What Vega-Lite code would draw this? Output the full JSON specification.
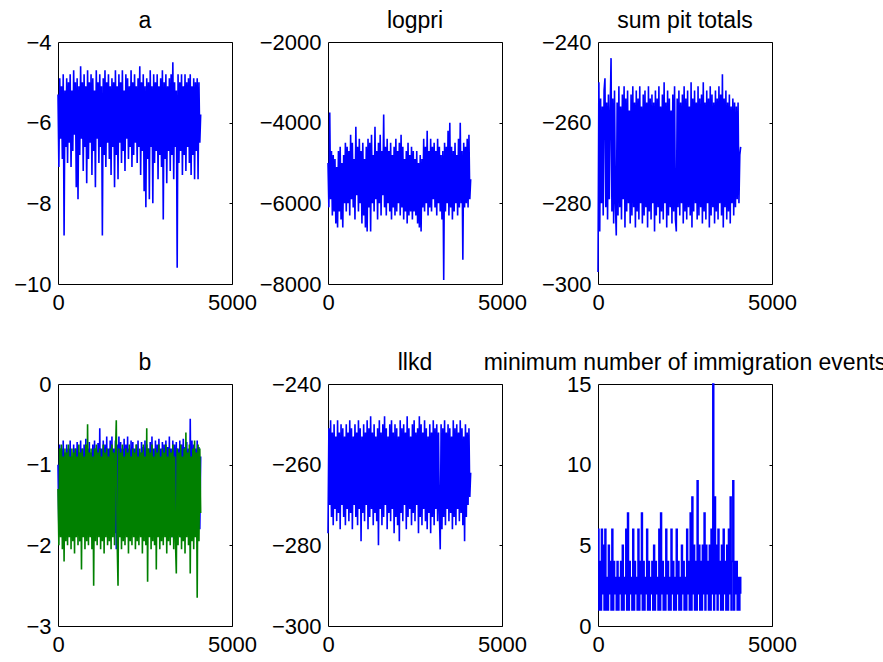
{
"$schema":"https://vega.github.io/schema/vega-lite/v6.json",
"padding":{"left":13,"top":9,"right":0,"bottom":5},
"config":{
 "font":"Liberation Sans",
 "view":{"stroke":"#000","strokeWidth":1},
 "axis":{"domain":false,"grid":false,"labelFont":"Liberation Sans","labelFontSize":22,"labelColor":"#000","tickColor":"#000","labelOverlap":false,"labelBound":false,"title":null},
 "title":{"font":"Liberation Sans","fontSize":23,"fontWeight":"normal","color":"#000","anchor":"middle","frame":"group","baseline":"alphabetic","offset":-2},
 "line":{"strokeWidth":1.6}
},
"datasets":{"t":[
{"x":0,"a":-5.3,"l":-5000,"s":-297,"b":-1.0,"g":-1.3,"k":-277,"m":6},
{"x":25,"a":-7.1,"l":-6100,"s":-250,"b":-1.8,"g":-2.0,"k":-251,"m":1},
{"x":50,"a":-4.9,"l":-3750,"s":-287,"b":-0.75,"g":-0.8,"k":-270,"m":4},
{"x":75,"a":-6.4,"l":-5900,"s":-254,"b":-1.6,"g":-1.9,"k":-249,"m":1},
{"x":100,"a":-5.1,"l":-4700,"s":-280,"b":-0.8,"g":-0.75,"k":-273,"m":6},
{"x":125,"a":-6.9,"l":-6300,"s":-256,"b":-1.9,"g":-2.05,"k":-252,"m":2},
{"x":150,"a":-4.8,"l":-4800,"s":-283,"b":-0.7,"g":-0.9,"k":-275,"m":5},
{"x":175,"a":-8.8,"l":-6200,"s":-252,"b":-1.7,"g":-2.2,"k":-250,"m":1},
{"x":200,"a":-5.2,"l":-4900,"s":-249,"b":-0.85,"g":-0.8,"k":-271,"m":6},
{"x":225,"a":-6.6,"l":-6500,"s":-281,"b":-1.8,"g":-1.95,"k":-253,"m":1},
{"x":250,"a":-4.9,"l":-5100,"s":-255,"b":-0.75,"g":-0.85,"k":-274,"m":3},
{"x":275,"a":-7.0,"l":-6600,"s":-284,"b":-1.9,"g":-2.0,"k":-249,"m":1},
{"x":300,"a":-5.0,"l":-4700,"s":-253,"b":-0.8,"g":-0.75,"k":-272,"m":5},
{"x":325,"a":-6.5,"l":-6200,"s":-279,"b":-1.6,"g":-1.9,"k":-252,"m":2},
{"x":350,"a":-4.8,"l":-4600,"s":-257,"b":-0.7,"g":-0.9,"k":-276,"m":4},
{"x":375,"a":-7.1,"l":-6400,"s":-244,"b":-1.85,"g":-2.05,"k":-250,"m":1},
{"x":400,"a":-5.2,"l":-5000,"s":-282,"b":-0.9,"g":-0.8,"k":-270,"m":6},
{"x":425,"a":-6.7,"l":-6600,"s":-254,"b":-1.7,"g":-1.95,"k":-251,"m":1},
{"x":450,"a":-4.7,"l":-4800,"s":-285,"b":-0.75,"g":-0.85,"k":-273,"m":4},
{"x":475,"a":-6.3,"l":-6000,"s":-252,"b":-1.9,"g":-2.1,"k":-253,"m":2},
{"x":500,"a":-5.0,"l":-4500,"s":-280,"b":-0.8,"g":-0.8,"k":-275,"m":3},
{"x":525,"a":-7.6,"l":-6200,"s":-288,"b":-1.75,"g":-1.9,"k":-250,"m":1},
{"x":550,"a":-4.9,"l":-4600,"s":-255,"b":-0.72,"g":-0.9,"k":-271,"m":4},
{"x":575,"a":-7.9,"l":-6000,"s":-283,"b":-1.8,"g":-2.0,"k":-252,"m":1},
{"x":600,"a":-5.1,"l":-4700,"s":-251,"b":-0.85,"g":-0.75,"k":-274,"m":3},
{"x":625,"a":-6.8,"l":-6300,"s":-281,"b":-1.95,"g":-1.95,"k":-249,"m":2},
{"x":650,"a":-4.6,"l":-4300,"s":-256,"b":-0.7,"g":-0.85,"k":-272,"m":4},
{"x":675,"a":-6.4,"l":-5900,"s":-284,"b":-1.7,"g":-2.3,"k":-251,"m":1},
{"x":700,"a":-5.0,"l":-4500,"s":-253,"b":-0.8,"g":-0.8,"k":-276,"m":5},
{"x":725,"a":-7.2,"l":-6100,"s":-279,"b":-1.85,"g":-1.9,"k":-253,"m":1},
{"x":750,"a":-4.8,"l":-4900,"s":-251,"b":-0.75,"g":-0.9,"k":-270,"m":3},
{"x":775,"a":-6.6,"l":-6400,"s":-286,"b":-1.6,"g":-2.05,"k":-250,"m":2},
{"x":800,"a":-5.1,"l":-4100,"s":-254,"b":-0.68,"g":-0.75,"k":-273,"m":6},
{"x":825,"a":-7.5,"l":-5800,"s":-282,"b":-1.9,"g":-1.95,"k":-252,"m":1},
{"x":850,"a":-4.7,"l":-4600,"s":-252,"b":-0.8,"g":-0.5,"k":-275,"m":7},
{"x":875,"a":-6.9,"l":-6200,"s":-280,"b":-1.75,"g":-2.0,"k":-249,"m":1},
{"x":900,"a":-5.0,"l":-4400,"s":-257,"b":-0.72,"g":-0.85,"k":-271,"m":4},
{"x":925,"a":-6.5,"l":-6000,"s":-285,"b":-1.85,"g":-1.9,"k":-251,"m":2},
{"x":950,"a":-4.8,"l":-4700,"s":-253,"b":-0.85,"g":-0.8,"k":-279,"m":3},
{"x":975,"a":-7.3,"l":-6500,"s":-283,"b":-1.7,"g":-2.05,"k":-253,"m":1},
{"x":1000,"a":-4.9,"l":-4500,"s":-251,"b":-0.75,"g":-0.9,"k":-272,"m":6},
{"x":1025,"a":-6.7,"l":-6300,"s":-281,"b":-1.9,"g":-2.5,"k":-250,"m":1},
{"x":1050,"a":-5.2,"l":-4900,"s":-255,"b":-0.7,"g":-0.8,"k":-274,"m":4},
{"x":1075,"a":-7.6,"l":-6600,"s":-286,"b":-1.8,"g":-1.95,"k":-252,"m":2},
{"x":1100,"a":-4.7,"l":-4600,"s":-252,"b":-0.8,"g":-0.75,"k":-270,"m":3},
{"x":1125,"a":-6.4,"l":-6700,"s":-282,"b":-1.65,"g":-2.0,"k":-249,"m":1},
{"x":1150,"a":-5.0,"l":-4400,"s":-254,"b":-0.73,"g":-0.85,"k":-276,"m":6},
{"x":1175,"a":-7.0,"l":-6100,"s":-284,"b":-1.85,"g":-1.9,"k":-251,"m":1},
{"x":1200,"a":-4.8,"l":-4500,"s":-251,"b":-0.55,"g":-0.8,"k":-273,"m":4},
{"x":1225,"a":-6.6,"l":-6700,"s":-280,"b":-1.75,"g":-2.05,"k":-248,"m":2},
{"x":1250,"a":-5.1,"l":-4300,"s":-256,"b":-0.8,"g":-0.9,"k":-271,"m":7},
{"x":1275,"a":-8.8,"l":-6000,"s":-285,"b":-1.9,"g":-1.95,"k":-252,"m":1},
{"x":1300,"a":-4.9,"l":-4800,"s":-253,"b":-0.7,"g":-0.75,"k":-275,"m":4},
{"x":1325,"a":-6.8,"l":-6200,"s":-283,"b":-1.7,"g":-2.1,"k":-250,"m":1},
{"x":1350,"a":-4.7,"l":-4100,"s":-252,"b":-0.75,"g":-0.85,"k":-272,"m":3},
{"x":1375,"a":-7.1,"l":-5900,"s":-281,"b":-1.85,"g":-1.9,"k":-253,"m":2},
{"x":1400,"a":-5.0,"l":-4700,"s":-255,"b":-0.65,"g":-0.8,"k":-274,"m":6},
{"x":1425,"a":-6.5,"l":-6400,"s":-286,"b":-1.8,"g":-2.0,"k":-251,"m":1},
{"x":1450,"a":-4.8,"l":-4500,"s":-251,"b":-0.8,"g":-0.9,"k":-280,"m":4},
{"x":1475,"a":-6.9,"l":-6000,"s":-282,"b":-1.7,"g":-1.95,"k":-249,"m":1},
{"x":1500,"a":-5.1,"l":-4300,"s":-254,"b":-0.7,"g":-0.8,"k":-271,"m":3},
{"x":1525,"a":-7.3,"l":-6300,"s":-284,"b":-1.9,"g":-2.05,"k":-252,"m":2},
{"x":1550,"a":-4.9,"l":-4700,"s":-253,"b":-0.65,"g":-0.75,"k":-275,"m":4},
{"x":1575,"a":-6.6,"l":-5800,"s":-280,"b":-1.75,"g":-1.9,"k":-250,"m":1},
{"x":1600,"a":-5.0,"l":-3800,"s":-255,"b":-0.8,"g":-0.85,"k":-273,"m":5},
{"x":1625,"a":-7.6,"l":-6100,"s":-287,"b":-1.85,"g":-2.0,"k":-248,"m":1},
{"x":1650,"a":-4.7,"l":-4600,"s":-252,"b":-0.7,"g":-0.9,"k":-270,"m":4},
{"x":1675,"a":-6.8,"l":-6300,"s":-283,"b":-2.05,"g":-0.45,"k":-251,"m":2},
{"x":1700,"a":-5.1,"l":-4400,"s":-254,"b":-0.75,"g":-1.95,"k":-276,"m":3},
{"x":1725,"a":-7.4,"l":-6000,"s":-281,"b":-1.8,"g":-2.5,"k":-253,"m":1},
{"x":1750,"a":-4.8,"l":-4700,"s":-251,"b":-0.65,"g":-0.8,"k":-272,"m":6},
{"x":1775,"a":-6.5,"l":-6200,"s":-285,"b":-1.7,"g":-1.9,"k":-250,"m":1},
{"x":1800,"a":-5.0,"l":-4500,"s":-256,"b":-0.72,"g":-0.85,"k":-274,"m":7},
{"x":1825,"a":-7.0,"l":-6400,"s":-282,"b":-1.9,"g":-2.05,"k":-249,"m":2},
{"x":1850,"a":-4.7,"l":-4800,"s":-253,"b":-0.8,"g":-0.75,"k":-271,"m":4},
{"x":1875,"a":-6.7,"l":-6100,"s":-284,"b":-1.75,"g":-1.95,"k":-252,"m":1},
{"x":1900,"a":-5.2,"l":-4600,"s":-250,"b":-0.68,"g":-0.9,"k":-277,"m":3},
{"x":1925,"a":-7.2,"l":-6300,"s":-280,"b":-1.85,"g":-2.0,"k":-250,"m":1},
{"x":1950,"a":-4.8,"l":-4400,"s":-255,"b":-0.75,"g":-0.8,"k":-273,"m":6},
{"x":1975,"a":-6.4,"l":-6200,"s":-286,"b":-1.7,"g":-1.9,"k":-251,"m":2},
{"x":2000,"a":-4.9,"l":-4700,"s":-252,"b":-0.65,"g":-0.85,"k":-275,"m":4},
{"x":2025,"a":-6.9,"l":-6000,"s":-283,"b":-1.9,"g":-2.1,"k":-253,"m":1},
{"x":2050,"a":-5.1,"l":-4500,"s":-254,"b":-0.8,"g":-0.75,"k":-279,"m":3},
{"x":2075,"a":-6.6,"l":-6300,"s":-281,"b":-1.8,"g":-1.95,"k":-249,"m":1},
{"x":2100,"a":-4.7,"l":-4300,"s":-257,"b":-0.7,"g":-0.9,"k":-272,"m":6},
{"x":2125,"a":-7.1,"l":-6100,"s":-285,"b":-1.75,"g":-2.0,"k":-251,"m":2},
{"x":2150,"a":-5.0,"l":-4600,"s":-253,"b":-0.72,"g":-0.8,"k":-274,"m":4},
{"x":2175,"a":-6.8,"l":-6400,"s":-282,"b":-1.85,"g":-1.9,"k":-250,"m":1},
{"x":2200,"a":-4.8,"l":-4900,"s":-251,"b":-0.8,"g":-0.85,"k":-270,"m":3},
{"x":2225,"a":-6.5,"l":-6200,"s":-284,"b":-1.7,"g":-2.05,"k":-252,"m":1},
{"x":2250,"a":-5.1,"l":-4700,"s":-287,"b":-0.75,"g":-0.75,"k":-276,"m":6},
{"x":2275,"a":-7.0,"l":-6500,"s":-254,"b":-1.9,"g":-1.95,"k":-248,"m":2},
{"x":2300,"a":-4.9,"l":-4500,"s":-281,"b":-0.7,"g":-0.9,"k":-273,"m":4},
{"x":2325,"a":-6.6,"l":-6300,"s":-252,"b":-1.8,"g":-2.0,"k":-251,"m":1},
{"x":2350,"a":-4.6,"l":-4800,"s":-283,"b":-0.85,"g":-0.8,"k":-271,"m":3},
{"x":2375,"a":-7.3,"l":-6200,"s":-255,"b":-1.75,"g":-1.9,"k":-253,"m":1},
{"x":2400,"a":-5.0,"l":-4600,"s":-280,"b":-0.72,"g":-0.85,"k":-275,"m":5},
{"x":2425,"a":-6.7,"l":-6400,"s":-253,"b":-1.85,"g":-2.1,"k":-250,"m":2},
{"x":2450,"a":-4.8,"l":-4700,"s":-285,"b":-0.78,"g":-0.75,"k":-272,"m":4},
{"x":2475,"a":-7.7,"l":-6200,"s":-251,"b":-1.7,"g":-1.95,"k":-249,"m":1},
{"x":2500,"a":-5.1,"l":-4900,"s":-282,"b":-0.7,"g":-0.9,"k":-274,"m":3},
{"x":2525,"a":-8.1,"l":-6300,"s":-254,"b":-1.9,"g":-2.0,"k":-252,"m":1},
{"x":2550,"a":-4.9,"l":-4700,"s":-284,"b":-0.75,"g":-0.55,"k":-270,"m":6},
{"x":2575,"a":-6.9,"l":-6500,"s":-252,"b":-1.8,"g":-2.45,"k":-251,"m":2},
{"x":2600,"a":-5.0,"l":-5000,"s":-281,"b":-0.8,"g":-0.8,"k":-277,"m":4},
{"x":2625,"a":-7.9,"l":-6600,"s":-256,"b":-1.7,"g":-1.9,"k":-248,"m":1},
{"x":2650,"a":-4.7,"l":-4800,"s":-283,"b":-0.72,"g":-0.85,"k":-273,"m":7},
{"x":2675,"a":-6.6,"l":-6700,"s":-250,"b":-1.85,"g":-2.05,"k":-250,"m":1},
{"x":2700,"a":-5.1,"l":-4900,"s":-286,"b":-0.65,"g":-0.75,"k":-275,"m":8},
{"x":2725,"a":-8.0,"l":-6100,"s":-254,"b":-1.75,"g":-1.95,"k":-252,"m":2},
{"x":2750,"a":-4.8,"l":-4400,"s":-282,"b":-0.8,"g":-0.9,"k":-271,"m":5},
{"x":2775,"a":-7.0,"l":-6200,"s":-252,"b":-1.9,"g":-2.0,"k":-249,"m":1},
{"x":2800,"a":-5.0,"l":-4600,"s":-280,"b":-0.7,"g":-0.8,"k":-274,"m":4},
{"x":2825,"a":-6.7,"l":-6000,"s":-255,"b":-1.8,"g":-2.3,"k":-251,"m":1},
{"x":2850,"a":-4.8,"l":-4200,"s":-284,"b":-0.75,"g":-0.85,"k":-276,"m":9},
{"x":2875,"a":-7.4,"l":-6300,"s":-251,"b":-1.7,"g":-1.9,"k":-253,"m":2},
{"x":2900,"a":-5.1,"l":-4700,"s":-283,"b":-0.68,"g":-0.75,"k":-272,"m":5},
{"x":2925,"a":-6.8,"l":-6100,"s":-254,"b":-1.85,"g":-2.05,"k":-250,"m":1},
{"x":2950,"a":-4.9,"l":-4400,"s":-281,"b":-0.8,"g":-0.9,"k":-277,"m":4},
{"x":2975,"a":-7.1,"l":-6200,"s":-253,"b":-1.75,"g":-1.95,"k":-252,"m":1},
{"x":3000,"a":-4.7,"l":-4600,"s":-285,"b":-0.72,"g":-0.8,"k":-273,"m":5},
{"x":3025,"a":-8.4,"l":-5900,"s":-250,"b":-1.9,"g":-2.0,"k":-249,"m":2},
{"x":3050,"a":-5.0,"l":-4500,"s":-282,"b":-0.75,"g":-0.85,"k":-275,"m":7},
{"x":3075,"a":-6.9,"l":-6100,"s":-255,"b":-1.8,"g":-1.9,"k":-251,"m":1},
{"x":3100,"a":-4.8,"l":-4700,"s":-284,"b":-0.7,"g":-0.75,"k":-271,"m":5},
{"x":3125,"a":-7.5,"l":-6300,"s":-252,"b":-1.7,"g":-2.1,"k":-250,"m":2},
{"x":3150,"a":-5.1,"l":-4400,"s":-280,"b":-0.78,"g":-0.9,"k":-274,"m":4},
{"x":3175,"a":-6.7,"l":-6000,"s":-254,"b":-1.85,"g":-1.95,"k":-252,"m":1},
{"x":3200,"a":-4.9,"l":-4600,"s":-286,"b":-0.65,"g":-0.8,"k":-272,"m":5},
{"x":3225,"a":-7.2,"l":-6200,"s":-251,"b":-1.75,"g":-2.0,"k":-281,"m":1},
{"x":3250,"a":-4.8,"l":-4800,"s":-283,"b":-0.8,"g":-0.85,"k":-250,"m":6},
{"x":3275,"a":-6.8,"l":-6400,"s":-253,"b":-1.9,"g":-1.9,"k":-276,"m":2},
{"x":3300,"a":-4.5,"l":-4700,"s":-281,"b":-0.7,"g":-0.75,"k":-251,"m":15},
{"x":3325,"a":-7.4,"l":-7900,"s":-255,"b":-1.8,"g":-2.05,"k":-273,"m":1},
{"x":3350,"a":-5.0,"l":-4500,"s":-285,"b":-0.75,"g":-0.9,"k":-249,"m":8},
{"x":3375,"a":-6.6,"l":-6200,"s":-252,"b":-1.7,"g":-1.95,"k":-275,"m":2},
{"x":3400,"a":-5.2,"l":-4600,"s":-282,"b":-0.72,"g":-2.35,"k":-252,"m":5},
{"x":3425,"a":-9.6,"l":-6000,"s":-254,"b":-1.85,"g":-0.8,"k":-271,"m":1},
{"x":3450,"a":-4.8,"l":-4200,"s":-284,"b":-0.8,"g":-2.0,"k":-250,"m":6},
{"x":3475,"a":-7.0,"l":-6300,"s":-251,"b":-1.75,"g":-0.85,"k":-274,"m":2},
{"x":3500,"a":-5.0,"l":-4000,"s":-280,"b":-0.7,"g":-1.9,"k":-251,"m":4},
{"x":3525,"a":-6.7,"l":-6100,"s":-253,"b":-1.9,"g":-0.75,"k":-272,"m":1},
{"x":3550,"a":-4.8,"l":-4600,"s":-283,"b":-0.75,"g":-2.05,"k":-253,"m":5},
{"x":3575,"a":-7.3,"l":-6400,"s":-248,"b":-1.8,"g":-0.9,"k":-276,"m":1},
{"x":3600,"a":-5.1,"l":-4700,"s":-286,"b":-0.68,"g":-1.95,"k":-249,"m":6},
{"x":3625,"a":-6.8,"l":-6200,"s":-254,"b":-1.7,"g":-0.8,"k":-273,"m":2},
{"x":3650,"a":-4.8,"l":-4500,"s":-281,"b":-0.78,"g":-2.1,"k":-251,"m":4},
{"x":3675,"a":-7.2,"l":-6000,"s":-252,"b":-1.85,"g":-0.6,"k":-275,"m":1},
{"x":3700,"a":-5.0,"l":-4800,"s":-284,"b":-0.72,"g":-1.9,"k":-250,"m":5},
{"x":3725,"a":-6.6,"l":-6300,"s":-255,"b":-1.75,"g":-0.85,"k":-271,"m":1},
{"x":3750,"a":-4.9,"l":-4400,"s":-282,"b":-0.8,"g":-2.0,"k":-252,"m":6},
{"x":3775,"a":-7.0,"l":-6100,"s":-253,"b":-1.9,"g":-0.75,"k":-274,"m":2},
{"x":3800,"a":-4.8,"l":-4000,"s":-285,"b":-0.43,"g":-2.35,"k":-249,"m":8},
{"x":3825,"a":-7.3,"l":-6000,"s":-256,"b":-1.8,"g":-0.9,"k":-272,"m":1},
{"x":3850,"a":-5.1,"l":-4700,"s":-280,"b":-0.7,"g":-1.95,"k":-251,"m":4},
{"x":3875,"a":-6.8,"l":-7400,"s":-254,"b":-1.7,"g":-0.8,"k":-275,"m":9},
{"x":3900,"a":-4.9,"l":-4500,"s":-283,"b":-0.75,"g":-2.05,"k":-253,"m":1},
{"x":3925,"a":-7.4,"l":-6100,"s":-255,"b":-1.85,"g":-0.7,"k":-279,"m":4},
{"x":3950,"a":-5.0,"l":-4600,"s":-281,"b":-0.8,"g":-1.9,"k":-250,"m":2},
{"x":3975,"a":-6.7,"l":-6000,"s":-256,"b":-1.75,"g":-0.85,"k":-273,"m":4},
{"x":4000,"a":-4.9,"l":-4400,"s":-279,"b":-0.7,"g":-2.65,"k":-252,"m":1},
{"x":4025,"a":-7.4,"l":-6100,"s":-255,"b":-1.9,"g":-0.75,"k":-270,"m":3},
{"x":4050,"a":-5.0,"l":-4300,"s":-280,"b":-0.78,"g":-1.95,"k":-251,"m":1},
{"x":4075,"a":-6.5,"l":-5900,"s":-268,"b":-1.8,"g":-0.8,"k":-268,"m":3},
{"x":4100,"a":-5.8,"l":-5400,"s":-266,"b":-0.9,"g":-1.6,"k":-262,"m":2}
]},
"data":{"name":"t"},
"columns":3,
"bounds":"flush",
"spacing":{"row":100,"column":96},
"concat":[
{"width":174,"height":242,"title":"a","layer":[
 {"mark":{"type":"line","color":"#0000ff"},"encoding":{"x":{"field":"x","type":"quantitative","scale":{"domain":[0,5000],"nice":false},"axis":{"values":[0,5000],"format":"d","ticks":false,"labelFlush":false,"labelPadding":8}},"y":{"field":"a","type":"quantitative","scale":{"domain":[-10,-4],"nice":false,"zero":false},"axis":{"values":[-10,-8,-6,-4],"format":"d","ticks":false,"labelPadding":7}}}},
 {"mark":{"type":"point","opacity":0},"encoding":{"x":{"field":"x","type":"quantitative"},"y":{"field":"a","type":"quantitative","axis":{"orient":"right","values":[-10,-8,-6,-4],"labels":false,"ticks":true,"tickSize":3,"offset":-3}}}}
],"resolve":{"axis":{"y":"independent"}}},
{"width":174,"height":242,"title":"logpri","layer":[
 {"mark":{"type":"line","color":"#0000ff"},"encoding":{"x":{"field":"x","type":"quantitative","scale":{"domain":[0,5000],"nice":false},"axis":{"values":[0,5000],"format":"d","ticks":false,"labelFlush":false,"labelPadding":8}},"y":{"field":"l","type":"quantitative","scale":{"domain":[-8000,-2000],"nice":false,"zero":false},"axis":{"values":[-8000,-6000,-4000,-2000],"format":"d","ticks":false,"labelPadding":7}}}},
 {"mark":{"type":"point","opacity":0},"encoding":{"x":{"field":"x","type":"quantitative"},"y":{"field":"l","type":"quantitative","axis":{"orient":"right","values":[-8000,-6000,-4000,-2000],"labels":false,"ticks":true,"tickSize":3,"offset":-3}}}}
],"resolve":{"axis":{"y":"independent"}}},
{"width":174,"height":242,"title":"sum pit totals","layer":[
 {"mark":{"type":"line","color":"#0000ff"},"encoding":{"x":{"field":"x","type":"quantitative","scale":{"domain":[0,5000],"nice":false},"axis":{"values":[0,5000],"format":"d","ticks":false,"labelFlush":false,"labelPadding":8}},"y":{"field":"s","type":"quantitative","scale":{"domain":[-300,-240],"nice":false,"zero":false},"axis":{"values":[-300,-280,-260,-240],"format":"d","ticks":false,"labelPadding":7}}}},
 {"mark":{"type":"point","opacity":0},"encoding":{"x":{"field":"x","type":"quantitative"},"y":{"field":"s","type":"quantitative","axis":{"orient":"right","values":[-300,-280,-260,-240],"labels":false,"ticks":true,"tickSize":3,"offset":-3}}}}
],"resolve":{"axis":{"y":"independent"}}},
{"width":174,"height":242,"title":"b","layer":[
 {"mark":{"type":"line","color":"#0000ff"},"encoding":{"x":{"field":"x","type":"quantitative","scale":{"domain":[0,5000],"nice":false},"axis":{"values":[0,5000],"format":"d","ticks":false,"labelFlush":false,"labelPadding":8}},"y":{"field":"b","type":"quantitative","scale":{"domain":[-3,0],"nice":false,"zero":false},"axis":{"values":[-3,-2,-1,0],"format":"d","ticks":false,"labelPadding":7}}}},
 {"mark":{"type":"line","color":"#008000"},"encoding":{"x":{"field":"x","type":"quantitative"},"y":{"field":"g","type":"quantitative","axis":null}}},
 {"mark":{"type":"point","opacity":0},"encoding":{"x":{"field":"x","type":"quantitative"},"y":{"field":"b","type":"quantitative","axis":{"orient":"right","values":[-3,-2,-1,0],"labels":false,"ticks":true,"tickSize":3,"offset":-3}}}}
],"resolve":{"axis":{"y":"independent"}}},
{"width":174,"height":242,"title":"llkd","layer":[
 {"mark":{"type":"line","color":"#0000ff"},"encoding":{"x":{"field":"x","type":"quantitative","scale":{"domain":[0,5000],"nice":false},"axis":{"values":[0,5000],"format":"d","ticks":false,"labelFlush":false,"labelPadding":8}},"y":{"field":"k","type":"quantitative","scale":{"domain":[-300,-240],"nice":false,"zero":false},"axis":{"values":[-300,-280,-260,-240],"format":"d","ticks":false,"labelPadding":7}}}},
 {"mark":{"type":"point","opacity":0},"encoding":{"x":{"field":"x","type":"quantitative"},"y":{"field":"k","type":"quantitative","axis":{"orient":"right","values":[-300,-280,-260,-240],"labels":false,"ticks":true,"tickSize":3,"offset":-3}}}}
],"resolve":{"axis":{"y":"independent"}}},
{"width":174,"height":242,"title":"minimum number of immigration events","layer":[
 {"mark":{"type":"line","color":"#0000ff","interpolate":"step-after"},"encoding":{"x":{"field":"x","type":"quantitative","scale":{"domain":[0,5000],"nice":false},"axis":{"values":[0,5000],"format":"d","ticks":false,"labelFlush":false,"labelPadding":8}},"y":{"field":"m","type":"quantitative","scale":{"domain":[0,15],"nice":false,"zero":false},"axis":{"values":[0,5,10,15],"format":"d","ticks":false,"labelPadding":7}}}},
 {"mark":{"type":"point","opacity":0},"encoding":{"x":{"field":"x","type":"quantitative"},"y":{"field":"m","type":"quantitative","axis":{"orient":"right","values":[0,5,10,15],"labels":false,"ticks":true,"tickSize":3,"offset":-3}}}}
],"resolve":{"axis":{"y":"independent"}}}
]
}
